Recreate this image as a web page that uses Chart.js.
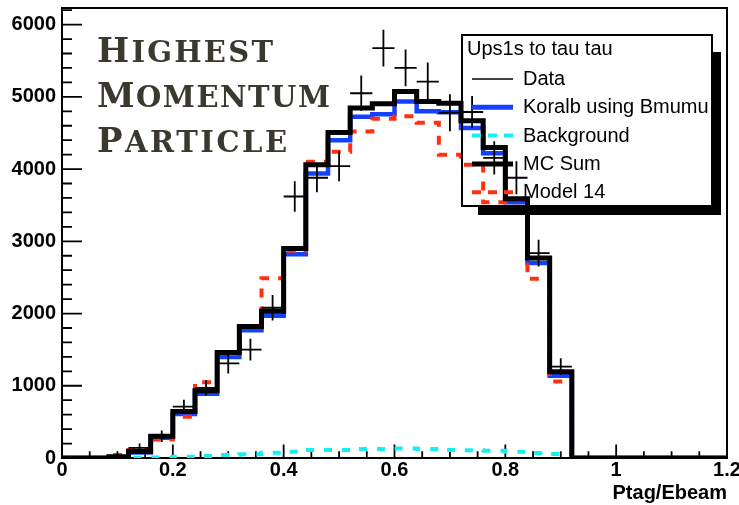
<!DOCTYPE html>
<html>
<head>
<meta charset="utf-8">
<title>Highest Momentum Particle</title>
<script src="https://cdn.jsdelivr.net/npm/chart.js@4.4.1/dist/chart.umd.min.js"></script>
<style>
  html, body { margin: 0; padding: 0; background: #fff; }
  #wrap { width: 739px; height: 505px; }
</style>
</head>
<body>
<div id="wrap"><canvas id="ptagChart" width="739" height="505"></canvas></div>
<script>
// ---------------------------------------------
// histogram contents, 30 bins of Ptag/Ebeam
// ---------------------------------------------
const X_MIN = 0, X_MAX = 1.2, Y_MAX = 6230;
const BIN_W = 0.04;

const binLow = [0.00, 0.04, 0.08, 0.12, 0.16, 0.20, 0.24, 0.28, 0.32, 0.36,
                0.40, 0.44, 0.48, 0.52, 0.56, 0.60, 0.64, 0.68, 0.72, 0.76,
                0.80, 0.84, 0.88, 0.92, 0.96, 1.00, 1.04, 1.08, 1.12, 1.16];

const mcSum      = [0, 0, 0, 90, 300, 645, 930, 1460, 1820, 2030,
                    2900, 4060, 4505, 4845, 4905, 5075, 4935, 4910, 4670, 4300,
                    3590, 2770, 1195, 0, 0, 0, 0, 0, 0, 0];
const koralb     = [0, 0, 0, 75, 280, 610, 890, 1400, 1770, 1970,
                    2820, 3940, 4400, 4725, 4760, 4935, 4800, 4785, 4570, 4220,
                    3540, 2700, 1140, 0, 0, 0, 0, 0, 0, 0];
const background = [0, 0, 0, 5, 8, 18, 28, 42, 51, 73,
                    87, 110, 110, 125, 125, 130, 125, 110, 106, 100,
                    87, 70, 55, 0, 0, 0, 0, 0, 0, 0];
const model14    = [0, 0, 40, 110, 255, 570, 1050, 1440, 1820, 2490,
                    2870, 4100, 4240, 4520, 4695, 4730, 4640, 4200, 4060, 3540,
                    3480, 2480, 1060, 0, 0, 0, 0, 0, 0, 0];
const dataVals   = [null, null, 40, 140, 300, 710, 970, 1310, 1500, 2080,
                    3620, 3880, 4040, 5050, 5675, 5400, 5210, 4780, 4790, 4155,
                    3880, 2835, 1265, null, null, null, null, null, null, null];
const dataErr    = [null, null, 30, 60, 80, 95, 105, 140, 150, 175,
                    210, 200, 210, 245, 255, 255, 265, 255, 220, 230,
                    230, 185, 115, null, null, null, null, null, null, null];

const xTickVals = [0, 0.2, 0.4, 0.6, 0.8, 1, 1.2];
const yTickVals = [0, 1000, 2000, 3000, 4000, 5000, 6000];

const titleLines = ["Highest", "Momentum", "Particle"];
const legendHeader = "Ups1s to tau tau";

const RED = "#ff3010", BLUE = "#1440ff", CYAN = "#14f0f0";

const legendEntries = [
  { text: "Data",               color: "#000", width: 1.6, dash: [] },
  { text: "Koralb using Bmumu", color: BLUE,   width: 5,   dash: [] },
  { text: "Background",         color: CYAN,   width: 4,   dash: [9, 7] },
  { text: "MC Sum",             color: "#000", width: 5,   dash: [] },
  { text: "Model 14",           color: RED,    width: 4,   dash: [9, 7] }
];

// left-edge points + closing point at the top of the range, drawn stepped
function stepPoints(values) {
  const pts = binLow.map((x, i) => ({ x: x, y: values[i] }));
  pts.push({ x: X_MAX, y: values[values.length - 1] });
  return pts;
}

function histo(label, values, color, width, dash, order) {
  return {
    label: label,
    data: stepPoints(values),
    stepped: true,
    borderColor: color,
    borderWidth: width,
    borderDash: dash,
    borderCapStyle: "butt",
    borderJoinStyle: "miter",
    pointRadius: 0,
    fill: false,
    tension: 0,
    order: order
  };
}

// ---------------------------------------------
// frame + inward ticks
// ---------------------------------------------
const frameTicks = {
  id: "frameTicks",
  beforeDatasetsDraw(chart) {
    const { ctx, chartArea: a, scales: { x, y } } = chart;
    ctx.save();
    ctx.strokeStyle = "#000";
    ctx.lineWidth = 1.8;
    ctx.beginPath();
    for (let k = 0; k * 200 <= Y_MAX; k++) {
      const py = y.getPixelForValue(k * 200);
      ctx.moveTo(a.left, py);
      ctx.lineTo(a.left + (k % 5 === 0 ? 20 : 10), py);
    }
    for (let k = 0; k <= 24; k++) {
      const px = x.getPixelForValue(k * 0.05);
      ctx.moveTo(px, a.bottom);
      ctx.lineTo(px, a.bottom - (k % 4 === 0 ? 13.5 : 6.8));
    }
    ctx.stroke();
    ctx.lineWidth = 2;
    ctx.strokeRect(a.left, a.top, a.right - a.left, a.bottom - a.top);
    ctx.restore();
  }
};

// ---------------------------------------------
// data points with error bars
// ---------------------------------------------
const dataCrosses = {
  id: "dataCrosses",
  afterDatasetsDraw(chart) {
    const { ctx, scales: { x, y } } = chart;
    ctx.save();
    ctx.strokeStyle = "#000";
    ctx.lineWidth = 1.8;
    ctx.beginPath();
    dataVals.forEach((v, i) => {
      if (v == null) return;
      const x0 = x.getPixelForValue(binLow[i]);
      const x1 = x.getPixelForValue(binLow[i] + BIN_W);
      const xc = x.getPixelForValue(binLow[i] + BIN_W / 2);
      const py = y.getPixelForValue(v);
      ctx.moveTo(x0, py);
      ctx.lineTo(x1, py);
      ctx.moveTo(xc, y.getPixelForValue(v + dataErr[i]));
      ctx.lineTo(xc, y.getPixelForValue(v - dataErr[i]));
    });
    ctx.stroke();
    ctx.restore();
  }
};

// ---------------------------------------------
// legend box with shadow, and the title
// ---------------------------------------------
const overlay = {
  id: "overlay",
  afterDraw(chart) {
    const ctx = chart.ctx;
    ctx.save();

    // shadow
    ctx.fillStyle = "#000";
    ctx.beginPath();
    ctx.moveTo(712, 52);
    ctx.lineTo(721, 52);
    ctx.lineTo(721, 215);
    ctx.lineTo(478, 215);
    ctx.lineTo(478, 206);
    ctx.lineTo(712, 206);
    ctx.closePath();
    ctx.fill();

    ctx.strokeStyle = "#000";
    ctx.lineWidth = 2;
    ctx.strokeRect(462, 35, 250, 171);

    ctx.fillStyle = "#000";
    ctx.font = "20px 'Liberation Sans', Arial, sans-serif";
    ctx.textBaseline = "alphabetic";
    ctx.fillText(legendHeader, 467, 55);

    legendEntries.forEach((e, i) => {
      const base = 85 + i * 28.3;
      ctx.beginPath();
      ctx.strokeStyle = e.color;
      ctx.lineWidth = e.width;
      ctx.setLineDash(e.dash);
      ctx.moveTo(472, base - 6);
      ctx.lineTo(513, base - 6);
      ctx.stroke();
      ctx.setLineDash([]);
      ctx.fillStyle = "#000";
      ctx.fillText(e.text, 523, base);
    });

    // title in spaced small capitals
    const widths = [176, 233, 190];
    const bases = [62, 107, 152];
    ctx.fillStyle = "#3a382f";
    titleLines.forEach((word, i) => {
      const first = word[0].toUpperCase();
      const rest = word.slice(1).toUpperCase();
      ctx.letterSpacing = "0px";
      ctx.font = "bold 34px 'DejaVu Serif', serif";
      const w1 = ctx.measureText(first).width;
      ctx.fillText(first, 97, bases[i]);
      ctx.font = "bold 29px 'DejaVu Serif', serif";
      const w2 = ctx.measureText(rest).width;
      const sp = (widths[i] - w1 - w2) / rest.length;
      ctx.letterSpacing = sp + "px";
      ctx.fillText(rest, 97 + w1 + sp, bases[i]);
    });
    ctx.letterSpacing = "0px";
    ctx.restore();
  }
};

// ---------------------------------------------
// chart
// ---------------------------------------------
const tickFont = { family: "'Liberation Sans', Arial, sans-serif", size: 20, weight: "bold" };

new Chart(document.getElementById("ptagChart"), {
  type: "line",
  data: {
    datasets: [
      histo("MC Sum", mcSum, "#000", 5, [], 1),
      histo("Model 14", model14, RED, 4, [9, 9], 2),
      histo("Koralb using Bmumu", koralb, BLUE, 4.5, [], 3),
      histo("Background", background, CYAN, 4, [8, 10], 4)
    ]
  },
  options: {
    responsive: false,
    animation: false,
    devicePixelRatio: 1,
    layout: { padding: { left: 0, right: 12, top: 8, bottom: 0 } },
    plugins: { legend: { display: false }, tooltip: { enabled: false } },
    scales: {
      x: {
        type: "linear",
        min: X_MIN,
        max: X_MAX,
        grid: { display: false, drawTicks: false },
        border: { display: false },
        ticks: {
          padding: 0,
          maxRotation: 0,
          autoSkip: false,
          color: "#000",
          font: tickFont,
          callback: (v) => String(+v.toFixed(2))
        },
        afterBuildTicks: (s) => { s.ticks = xTickVals.map((v) => ({ value: v })); },
        title: {
          display: true,
          text: "Ptag/Ebeam",
          align: "end",
          color: "#000",
          font: tickFont,
          padding: { top: 0, bottom: 0 }
        },
        afterFit: (s) => { s.height = 47; s.paddingLeft = 0; s.paddingRight = 0; }
      },
      y: {
        type: "linear",
        min: 0,
        max: Y_MAX,
        grid: { display: false, drawTicks: false },
        border: { display: false },
        ticks: {
          padding: 6,
          color: "#000",
          font: tickFont,
          callback: (v) => String(v)
        },
        afterBuildTicks: (s) => { s.ticks = yTickVals.map((v) => ({ value: v })); },
        afterFit: (s) => { s.width = 62; s.paddingTop = 0; s.paddingBottom = 0; }
      }
    }
  },
  plugins: [frameTicks, dataCrosses, overlay]
});
</script>
</body>
</html>
